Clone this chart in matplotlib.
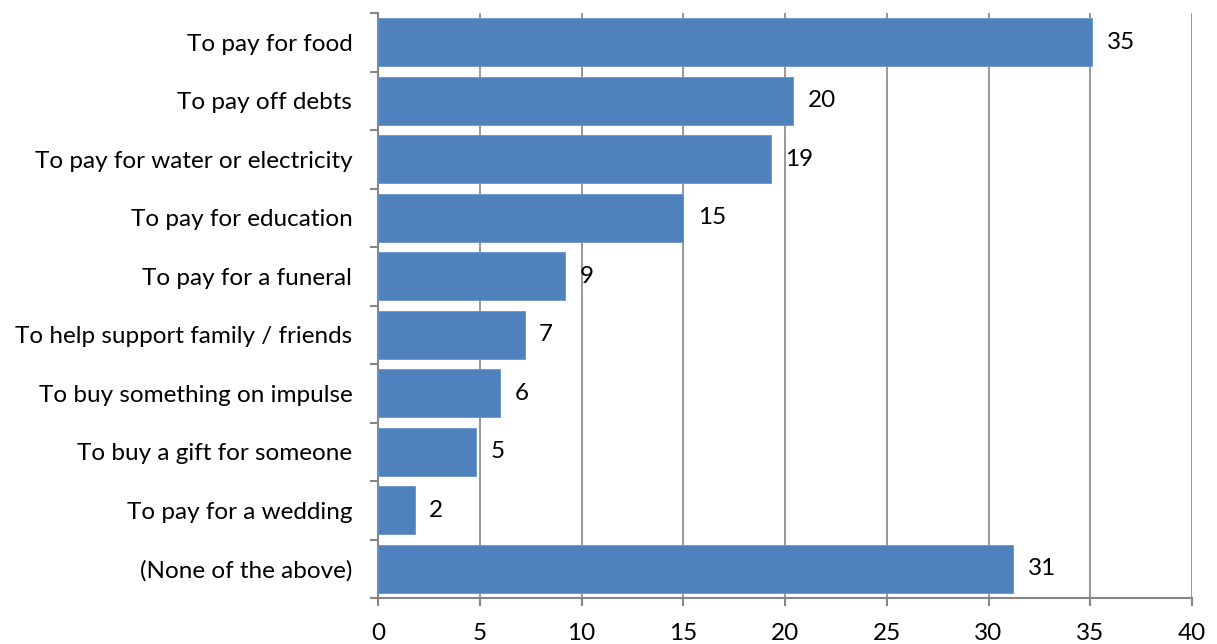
import matplotlib
matplotlib.use("Agg")
import matplotlib.pyplot as plt
from matplotlib.ticker import FixedLocator
import numpy as np

categories = [
    "To pay for food",
    "To pay off debts",
    "To pay for water or electricity",
    "To pay for education",
    "To pay for a funeral",
    "To help support family / friends",
    "To buy something on impulse",
    "To buy a gift for someone",
    "To pay for a wedding",
    "(None of the above)",
]
values = [35.1, 20.4, 19.3, 15.0, 9.2, 7.2, 6.0, 4.8, 1.8, 31.2]
labels = ["35", "20", "19", "15", "9", "7", "6", "5", "2", "31"]
xticks = [0, 5, 10, 15, 20, 25, 30, 35, 40]

plt.rcParams['font.family'] = ['Lato', 'DejaVu Sans']
FS = 17.5

fig = plt.figure(figsize=(12.17, 6.44), dpi=100)
ax = fig.add_axes([378/1217, 1 - 598/644, (1192-378)/1217, (598-13)/644])

n = len(categories)
y = np.arange(n)
ax.barh(y, values, height=0.82, color="#4F81BD", edgecolor="#6A95C9", linewidth=0.6, zorder=3)

for yi, v, lab in zip(y, values, labels):
    ax.annotate(lab, (v, yi), xytext=(10.5, 0), textcoords="offset points",
                va="center", ha="left", fontsize=FS, color="black")

ax.set_xlim(0, 40)
ax.set_ylim(n - 0.5, -0.5)
ax.set_xticks(xticks)
ax.set_xticklabels([str(t) for t in xticks], fontsize=FS)
ax.set_yticks(y)
ax.set_yticklabels(categories, fontsize=FS)
ax.tick_params(axis="y", length=0, pad=18.5)
ax.yaxis.set_minor_locator(FixedLocator(np.arange(-0.5, n, 1.0)))
ax.tick_params(axis="y", which="minor", length=6, color="#868686", width=1.5)
ax.tick_params(axis="x", length=6, color="#868686", width=1.5, pad=12)

ax.grid(axis="x", color="#868686", linewidth=1.2, zorder=0)
ax.set_axisbelow(True)
for s in ["top", "right"]:
    ax.spines[s].set_visible(False)
for s in ["left", "bottom"]:
    ax.spines[s].set_color("#868686")
    ax.spines[s].set_linewidth(1.5)

fig.savefig("out.png", dpi=100)
